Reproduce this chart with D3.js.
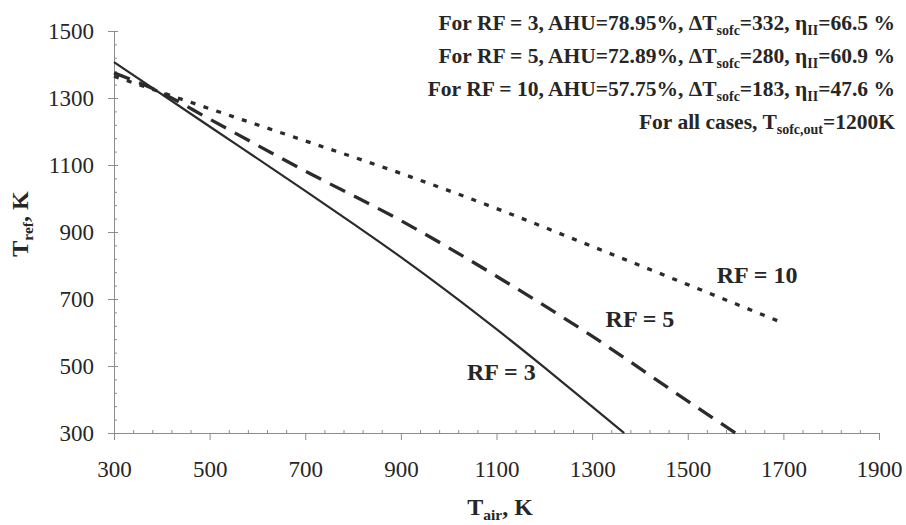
<!DOCTYPE html>
<html>
<head>
<meta charset="utf-8">
<script src="https://cdn.jsdelivr.net/npm/d3@7/dist/d3.min.js"></script>
<style>
  svg text, svg tspan { font-family: 'Liberation Serif', 'Times New Roman', Times !important; }
</style>
</head>
<body style="margin:0;background:#fff">
<svg id="chart" width="906" height="525" style="display:block"></svg>
<script>
// Air inlet temperature (K) and reformer temperature (K) for each recirculation factor
const airRF3  = [300, 500, 700, 800, 900, 1000, 1100, 1200, 1300, 1367];
const refRF3  = [1407, 1215, 1023, 925, 825, 720, 610, 496, 379, 300];
const airRF5  = [300, 400, 500, 700, 900, 1100, 1300, 1500, 1600];
const refRF5  = [1375, 1315, 1237, 1082, 934, 768, 589, 395, 300];
const airRF10 = [300, 500, 700, 900, 1100, 1300, 1500, 1700];
const refRF10 = [1365, 1268, 1172, 1075, 970, 857, 743, 628];

const xTicks = [300, 500, 700, 900, 1100, 1300, 1500, 1700, 1900];
const yTicks = [300, 500, 700, 900, 1100, 1300, 1500];

const notes = [
  ["For RF = 3, AHU=78.95%, ΔT", "sofc", "=332, η", "II", "=66.5 %"],
  ["For RF = 5, AHU=72.89%, ΔT", "sofc", "=280, η", "II", "=60.9 %"],
  ["For RF = 10, AHU=57.75%, ΔT", "sofc", "=183, η", "II", "=47.6 %"],
  ["For all cases, T", "sofc,out", "=1200K"]
];

const FONT = "'Liberation Serif', 'Times New Roman', Times";
const INK = "#262626";

const svg = d3.select("#chart");
const x = d3.scaleLinear().domain([300, 1900]).range([114, 879]);
const y = d3.scaleLinear().domain([300, 1500]).range([433, 31]);

const axisColor = "#8c8c8c";
const minorX = d3.range(300, 1901, 40).filter(v => !xTicks.includes(v));
const minorY = d3.range(300, 1501, 40).filter(v => !yTicks.includes(v));

// x axis: minor ticks above the line, major ticks below
const gx = svg.append("g").attr("transform", `translate(0,${y(300)})`);
gx.call(d3.axisBottom(x).tickValues(minorX).tickSize(-3).tickSizeOuter(0).tickFormat(""));
gx.append("g").call(d3.axisBottom(x).tickValues(xTicks).tickSize(7).tickSizeOuter(0).tickPadding(21)
  .tickFormat(d3.format("d")));
gx.selectAll("path, line").attr("stroke", axisColor);

// y axis: major ticks cross the line, minor ticks inside
const gy = svg.append("g").attr("transform", `translate(${x(300)},0)`);
gy.call(d3.axisLeft(y).tickValues(minorY).tickSize(-3).tickSizeOuter(0).tickFormat(""));
gy.append("g").call(d3.axisLeft(y).tickValues(yTicks).tickSize(-4).tickSizeOuter(0).tickFormat(""));
gy.append("g").call(d3.axisLeft(y).tickValues(yTicks).tickSize(6).tickSizeOuter(0).tickPadding(14)
  .tickFormat(d3.format("d")));
gy.selectAll("path, line").attr("stroke", axisColor);

svg.selectAll("g").attr("font-family", FONT);
svg.selectAll("g text")
  .style("font-family", FONT, "important").style("font-size", "23px").style("fill", INK);

// curves
const line = d3.line().x(d => x(d[0])).y(d => y(d[1])).curve(d3.curveMonotoneX);
const series = [
  { air: airRF3,  ref: refRF3,  width: 2.2, dash: null },
  { air: airRF5,  ref: refRF5,  width: 3.3, dash: "17,10" },
  { air: airRF10, ref: refRF10, width: 3.3, dash: "5,8.5" }
];
series.forEach(s => {
  svg.append("path")
    .datum(s.air.map((a, i) => [a, s.ref[i]]))
    .attr("d", line)
    .attr("fill", "none")
    .attr("stroke", "#2b2b2b")
    .attr("stroke-width", s.width)
    .attr("stroke-dasharray", s.dash);
});

// curve labels
const curveLabels = [
  { text: "RF = 3",  at: [1110, 458] },
  { text: "RF = 5",  at: [1400, 616] },
  { text: "RF = 10", at: [1645, 748] }
];
curveLabels.forEach(l => {
  svg.append("text")
    .attr("x", x(l.at[0])).attr("y", y(l.at[1]))
    .attr("text-anchor", "middle")
    .attr("font-family", FONT)
    .style("font-family", FONT, "important").style("font-size", "24px").style("font-weight", "bold")
    .style("fill", INK)
    .text(l.text);
});

// case notes in the upper right
notes.forEach((parts, i) => {
  const t = svg.append("text")
    .attr("x", 895).attr("y", 30 + i * 33)
    .attr("text-anchor", "end")
    .attr("font-family", FONT)
    .style("font-family", FONT, "important").style("font-weight", "bold").style("fill", INK);
  parts.forEach((p, j) => {
    const sub = j % 2 === 1;
    t.append("tspan")
      .style("font-size", sub ? "14px" : "21.5px")
      .attr("dy", sub ? 5 : (j > 0 ? -5 : 0))
      .text(p);
  });
});

// axis titles
function axisTitle(sel, main, sub) {
  sel.attr("font-family", FONT)
    .style("font-family", FONT, "important").style("font-weight", "bold").style("font-size", "24px")
    .style("fill", INK);
  sel.append("tspan").text(main);
  sel.append("tspan").style("font-size", "15.5px").attr("dy", 5).text(sub);
  sel.append("tspan").attr("dy", -5).text(", K");
}
axisTitle(svg.append("text").attr("x", 500).attr("y", 515).attr("text-anchor", "middle"), "T", "air");
axisTitle(svg.append("text").attr("transform", "translate(28,224) rotate(-90)").attr("text-anchor", "middle"), "T", "ref");
</script>
</body>
</html>
